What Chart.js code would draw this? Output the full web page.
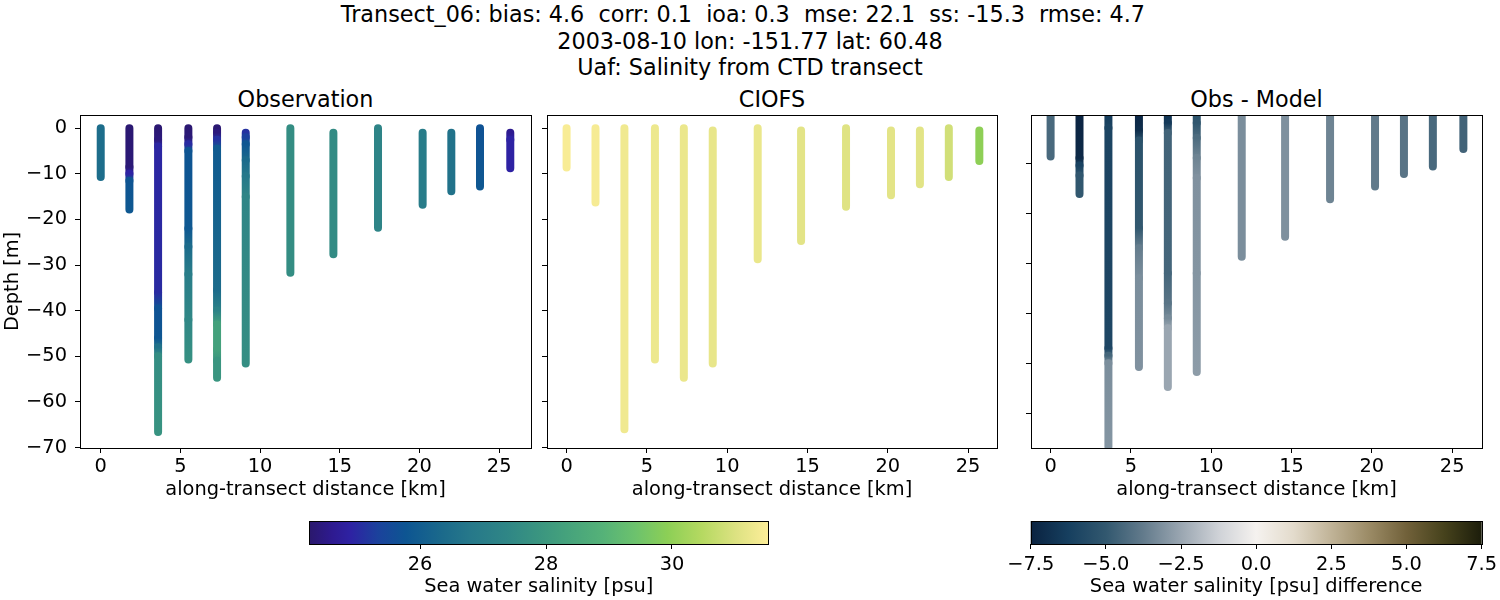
<!DOCTYPE html>
<html>
<head>
<meta charset="utf-8">
<script src="https://cdn.jsdelivr.net/npm/chart.js@4"></script>
<style>
  body { margin: 0; background: #fff; width: 1500px; height: 600px; position: relative; overflow: hidden; font-family: 'DejaVu Sans'; }
  canvas { position: absolute; }
  .t { position: absolute; text-align: center; font-size: 22.3px; line-height: 26.5px; color: #000; white-space: pre; }
</style>
</head>
<body>
<div class="t" style="left:0;width:1500px;top:1px">Transect_06: bias: 4.6  corr: 0.1  ioa: 0.3  mse: 22.1  ss: -15.3  rmse: 4.7  
2003-08-10 lon: -151.77 lat: 60.48
Uaf: Salinity from CTD transect</div>
<div class="t" style="left:80px;width:451px;top:86px">Observation</div>
<div class="t" style="left:547px;width:450px;top:86px">CIOFS</div>
<div class="t" style="left:1031px;width:451px;top:86px">Obs - Model</div>

<canvas id="p1" width="540" height="400" style="left:0;top:110px"></canvas>
<canvas id="p2" width="465" height="400" style="left:540px;top:110px"></canvas>
<canvas id="p3" width="480" height="400" style="left:1020px;top:110px"></canvas>
<canvas id="cb1" width="500" height="90" style="left:290px;top:510px"></canvas>
<canvas id="cb2" width="500" height="90" style="left:1000px;top:510px"></canvas>

<script>
// station positions along the transect [km]
var stationKm = [0, 1.8, 3.6, 5.5, 7.3, 9.1, 11.9, 14.6, 17.4, 20.2, 22.0, 23.8, 25.7];

// observed profiles: depth [m] and salinity [psu] per station
var obsDepth = [
  [0, -10.7],
  [0, -8.5, -10, -11.5, -17.8],
  [0, -2.5, -4, -36, -39.5, -46, -48, -50, -66.6],
  [0, -2, -3.5, -5, -22, -26, -32, -42, -50.7],
  [0, -1, -2.5, -4.5, -35.5, -40, -43, -48.5, -51, -54.7],
  [-1, -2, -3.5, -7, -10.5, -15, -51.6],
  [0, -31.7],
  [-1, -27.6],
  [0, -21.8],
  [-1, -16.8],
  [-1, -13.8],
  [0, -12.8],
  [-1, -2.5, -8.8]
];
var obsSal = [
  [26.45, 26.45],
  [24.3, 24.35, 24.9, 25.75, 25.85],
  [24.3, 24.4, 24.95, 25.0, 25.7, 25.8, 26.6, 27.6, 27.8],
  [24.3, 24.35, 25.0, 25.75, 25.85, 26.4, 27.0, 27.4, 27.7],
  [24.3, 24.4, 25.1, 25.9, 26.4, 27.2, 28.3, 28.3, 27.9, 27.9],
  [25.1, 25.3, 25.8, 26.35, 26.8, 27.35, 27.65],
  [27.6, 27.6],
  [27.55, 27.55],
  [27.3, 27.3],
  [26.95, 26.95],
  [26.6, 26.6],
  [25.7, 25.85],
  [24.6, 24.9, 24.9]
];

// model (CIOFS) profiles
var modDepth = [
  [0, -8.6], [0, -16.3], [0, -66], [0, -50.7], [0, -54.7], [-0.5, -51.6], [0, -28.7],
  [-0.5, -24.7], [0, -17.2], [-0.5, -14.7], [-0.5, -12.3], [0, -10.7], [-0.5, -7.2]
];
var modSal = [
  [31.45, 31.45], [31.42, 31.42], [31.32, 31.32], [31.28, 31.28], [31.24, 31.24], [31.2, 31.2], [31.22, 31.22],
  [31.12, 31.12], [31.05, 31.05], [31.12, 31.12], [31.1, 31.1], [30.85, 30.85], [29.95, 29.95]
];

// obs - model difference profiles
var diffDepth = [
  [0, -8.7],
  [0, -9, -10.5, -12.5, -16.2],
  [0, -3, -47, -48.5, -50, -66.6],
  [0, -3.5, -5.5, -23, -27, -33, -50.7],
  [0, -2, -4, -32, -38, -41, -43, -54.7],
  [0, -2, -5, -9, -13, -32, -51.7],
  [0, -28.7],
  [0, -24.7],
  [0, -17.2],
  [0, -14.7],
  [0, -12.2],
  [0, -10.7],
  [0, -7.2]
];
var diffVal = [
  [-4.4, -4.4],
  [-7.4, -7.2, -6.1, -5.1, -5.0],
  [-6.4, -6.0, -5.9, -4.5, -3.2, -3.0],
  [-7.3, -7.0, -5.3, -5.0, -3.7, -3.2, -3.1],
  [-6.8, -6.5, -4.6, -4.5, -4.0, -3.3, -2.5, -2.5],
  [-5.3, -5.1, -4.3, -3.5, -3.1, -3.0, -2.8],
  [-3.2, -3.2],
  [-3.15, -3.15],
  [-3.5, -3.5],
  [-3.8, -3.8],
  [-4.0, -4.0],
  [-4.4, -4.4],
  [-4.6, -4.6]
];

// colour ranges and tick labels
var salRange = [24.24, 31.53];
var diffRange = [-7.5, 7.5];
var salTicks = [26, 28, 30];
var diffTicks = [-7.5, -5, -2.5, 0, 2.5, 5, 7.5];

// colormaps (haline-like and diff-like)
var halineStops = [[0, '#2a186c'], [0.05, '#2e1a90'], [0.09, '#2e22a3'], [0.15, '#1b429c'], [0.21, '#0d5592'],
  [0.29, '#1b6a8b'], [0.35, '#26788a'], [0.43, '#2f8686'], [0.5, '#3a9580'], [0.56, '#45a27c'], [0.64, '#55b278'],
  [0.71, '#6cc26d'], [0.78, '#8ccf56'], [0.855, '#b5d961'], [0.93, '#dde282'], [1, '#fdee99']];
var diffStops = [[0, '#0a2240'], [0.083, '#163f5f'], [0.167, '#32586f'], [0.25, '#637b8c'], [0.333, '#9aa6b1'],
  [0.417, '#cfd2d7'], [0.5, '#f5f2ef'], [0.583, '#e3dbcc'], [0.667, '#c0b397'], [0.75, '#9b8b66'],
  [0.833, '#71613a'], [0.917, '#46421c'], [1, '#1c1d0b']];

Chart.defaults.font.family = 'DejaVu Sans';
Chart.defaults.font.size = 19.4;
Chart.defaults.color = '#000';

function hexRgb(h) {
  return [parseInt(h.substr(1, 2), 16), parseInt(h.substr(3, 2), 16), parseInt(h.substr(5, 2), 16)];
}

// looks up a colour for value v in a stop list over range r
function cmap(stops, r, v) {
  var t = Math.min(1, Math.max(0, (v - r[0]) / (r[1] - r[0])));
  for (var i = 1; i < stops.length; i++) {
    if (t <= stops[i][0]) {
      var a = hexRgb(stops[i - 1][1]), b = hexRgb(stops[i][1]);
      var f = (t - stops[i - 1][0]) / (stops[i][0] - stops[i - 1][0]);
      return 'rgb(' + a.map(function (c, k) { return Math.round(c + (b[k] - c) * f); }).join(',') + ')';
    }
  }
  return stops[stops.length - 1][1];
}

function minus(v) {
  return (v < 0 ? '\u2212' : '') + Math.abs(v);
}

// black box round the plot area, like matplotlib spines
var framePlugin = {
  id: 'frame',
  afterDatasetsDraw: function (chart) {
    var a = chart.chartArea, ctx = chart.ctx;
    ctx.save();
    ctx.strokeStyle = '#000';
    ctx.lineWidth = 1;
    var l = Math.round(a.left) + 0.5, t = Math.round(a.top) + 0.5;
    ctx.strokeRect(l, t, Math.round(a.right) - Math.round(a.left), Math.round(a.bottom) - Math.round(a.top));
    ctx.restore();
  }
};

// fixed axis sizes so the plot areas land where the reference has them
function fixX(h) {
  return function (s) { s.height = h; s.paddingLeft = 0; s.paddingRight = 0; };
}
function fixY(w) {
  return function (s) { s.width = w; s.paddingTop = 0; s.paddingBottom = 0; };
}

// builds one panel of vertical station profiles
function drawPanel(id, depths, vals, stops, range, opts) {
  var datasets = stationKm.map(function (km, i) {
    return {
      data: depths[i].map(function (d) { return {x: km, y: d}; }),
      vals: vals[i],
      borderWidth: 8,
      borderCapStyle: 'round',
      borderColor: cmap(stops, range, vals[i][0]),
      pointRadius: 0,
      pointHitRadius: 0,
      fill: false,
      clip: 0,
      segment: {
        borderColor: function (c) {
          var ds = c.chart.data.datasets[c.datasetIndex];
          var g = c.chart.ctx.createLinearGradient(c.p0.x, c.p0.y, c.p1.x, c.p1.y);
          g.addColorStop(0, cmap(stops, range, ds.vals[c.p0DataIndex]));
          g.addColorStop(1, cmap(stops, range, ds.vals[c.p1DataIndex]));
          return g;
        },
        borderDashOffset: function (c) { return c.p0DataIndex; }
      }
    };
  });
  return new Chart(document.getElementById(id), {
    type: 'line',
    data: {datasets: datasets},
    plugins: [framePlugin],
    options: {
      responsive: false,
      animation: false,
      events: [],
      devicePixelRatio: 1,
      layout: {padding: {left: 0, top: 5, right: opts.padRight, bottom: 0}},
      plugins: {legend: {display: false}, tooltip: {enabled: false}},
      scales: {
        x: {
          type: 'linear', min: opts.x[0], max: opts.x[1],
          border: {display: false},
          grid: {drawOnChartArea: false, tickLength: 5, color: '#000'},
          ticks: {stepSize: 5, includeBounds: false, padding: 2, maxRotation: 0, autoSkip: false, callback: minus},
          title: {display: true, text: 'along-transect distance [km]', padding: {top: 0, bottom: 8.4}},
          afterFit: fixX(62)
        },
        y: {
          type: 'linear', min: opts.y[0], max: opts.y[1],
          border: {display: false},
          grid: {drawOnChartArea: false, tickLength: 5, color: '#000'},
          ticks: {stepSize: 10, includeBounds: false, padding: 8, display: opts.yLabels, autoSkip: false, callback: minus},
          title: {display: opts.yLabels, text: 'Depth [m]', padding: {top: 1, bottom: 0}},
          afterFit: fixY(opts.yWidth)
        }
      }
    }
  });
}

drawPanel('p1', obsDepth, obsSal, halineStops, salRange,
  {x: [-1.3, 27.0], y: [-70.1, 2.9], yLabels: true, yWidth: 80, padRight: 9});
drawPanel('p2', modDepth, modSal, halineStops, salRange,
  {x: [-1.22, 26.8], y: [-70.1, 2.9], yLabels: false, yWidth: 7, padRight: 8});
drawPanel('p3', diffDepth, diffVal, diffStops, diffRange,
  {x: [-1.22, 26.86], y: [-66.9, -0.4], yLabels: false, yWidth: 11, padRight: 18});

// horizontal colour bar drawn in the chart area along the x scale
function drawColorbar(id, stops, range, tickVals, label, fmt, pad) {
  var barPlugin = {
    id: 'bar',
    beforeDatasetsDraw: function (chart) {
      var a = chart.chartArea, ctx = chart.ctx, xs = chart.scales.x;
      var g = ctx.createLinearGradient(a.left, 0, a.right, 0);
      stops.forEach(function (s) {
        var px = xs.getPixelForValue(range[0] + s[0] * (range[1] - range[0]));
        g.addColorStop((px - a.left) / (a.right - a.left), s[1]);
      });
      ctx.save();
      ctx.fillStyle = g;
      ctx.fillRect(a.left, a.top, a.right - a.left, a.bottom - a.top);
      ctx.restore();
    }
  };
  return new Chart(document.getElementById(id), {
    type: 'line',
    data: {datasets: []},
    plugins: [barPlugin, framePlugin],
    options: {
      responsive: false,
      animation: false,
      events: [],
      devicePixelRatio: 1,
      layout: {padding: {left: pad[0], top: 11, right: pad[1], bottom: 0}},
      plugins: {legend: {display: false}, tooltip: {enabled: false}},
      scales: {
        x: {
          type: 'linear', min: range[0], max: range[1],
          border: {display: false},
          grid: {drawOnChartArea: false, tickLength: 5, color: '#000'},
          afterBuildTicks: function (s) { s.ticks = tickVals.map(function (v) { return {value: v}; }); },
          ticks: {padding: 4, maxRotation: 0, autoSkip: false, callback: fmt},
          title: {display: true, text: label, padding: {top: 0, bottom: 1.7}},
          afterFit: fixX(56)
        },
        y: {display: false, min: 0, max: 1}
      }
    }
  });
}

drawColorbar('cb1', halineStops, salRange, salTicks, 'Sea water salinity [psu]',
  function (v) { return String(v); }, [19.3, 21.7]);
drawColorbar('cb2', diffStops, diffRange, diffTicks, 'Sea water salinity [psu] difference',
  function (v) { return (v < 0 ? '\u2212' : '') + Math.abs(v).toFixed(1); }, [30.7, 18.3]);
</script>
</body>
</html>
